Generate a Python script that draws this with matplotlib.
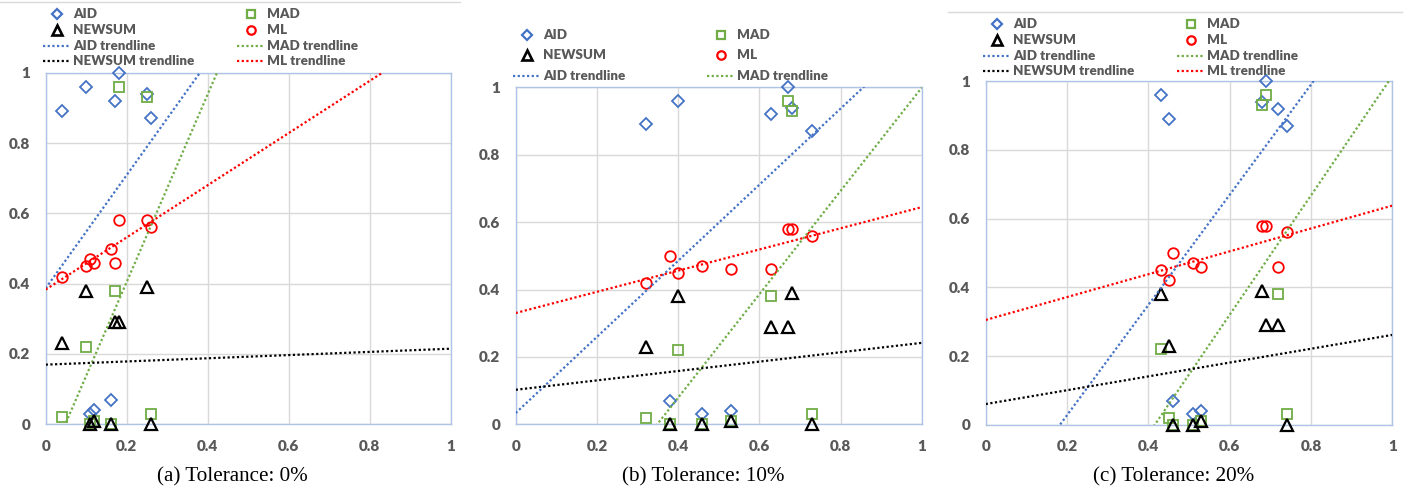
import numpy as np
import matplotlib
matplotlib.use("Agg")
import matplotlib.pyplot as plt
from matplotlib.lines import Line2D

# ---------------- data ----------------
x_tol0 = [0.04, 0.16, 0.10, 0.11, 0.12, 0.17, 0.18, 0.25, 0.26]
x_tol10 = [0.32, 0.38, 0.40, 0.46, 0.53, 0.63, 0.67, 0.68, 0.73]
x_tol20 = [0.45, 0.46, 0.43, 0.51, 0.53, 0.72, 0.69, 0.68, 0.74]
aid = [0.89, 0.07, 0.96, 0.03, 0.04, 0.92, 1.00, 0.94, 0.87]
mad = [0.02, 0.00, 0.22, 0.00, 0.01, 0.38, 0.96, 0.93, 0.03]
newsum = [0.23, 0.00, 0.38, 0.00, 0.01, 0.29, 0.29, 0.39, 0.00]
ml = [0.42, 0.50, 0.45, 0.47, 0.46, 0.46, 0.58, 0.58, 0.56]
series_names = ["AID", "MAD", "NEWSUM", "ML"]
captions = ["(a) Tolerance: 0%", "(b) Tolerance: 10%", "(c) Tolerance: 20%"]
ticks = [0, 0.2, 0.4, 0.6, 0.8, 1]
tick_labels = ["0", "0.2", "0.4", "0.6", "0.8", "1"]

# ---------------- style ----------------
W, H = 1416, 491
fig = plt.figure(figsize=(W / 100, H / 100), dpi=100)
TXT = "#595959"
styles = {
    "AID": dict(marker="D", color="#4472C4", ms=6.0, mew=1.3),
    "MAD": dict(marker="s", color="#70AD47", ms=7.2, mew=1.3),
    "NEWSUM": dict(marker="^", color="#000000", ms=8.2, mew=1.6),
    "ML": dict(marker="o", color="#FF0000", ms=7.6, mew=1.3),
}
values = {"AID": aid, "MAD": mad, "NEWSUM": newsum, "ML": ml}
xs_all = [x_tol0, x_tol10, x_tol20]

# axes boxes in pixels: left, right, top, bottom
boxes = [(45.7, 450.7, 72.7, 424.3), (515.7, 921.7, 87.3, 424.3), (985.7, 1392.3, 81.3, 424.7)]

for i, (l, r, t, b) in enumerate(boxes):
    ax = fig.add_axes([l / W, 1 - b / H, (r - l) / W, (b - t) / H])
    ax.set_xlim(0, 1)
    ax.set_ylim(0, 1)
    ax.set_xticks(ticks)
    ax.set_xticklabels(tick_labels)
    ax.set_yticks(ticks)
    ax.set_yticklabels(tick_labels)
    ax.grid(True, color="#D9D9D9", lw=1.0)
    ax.set_axisbelow(True)
    for sp in ax.spines.values():
        sp.set_color("#AFC3E6")
        sp.set_linewidth(1.0)
    ax.tick_params(length=0, pad=11, labelsize=11, labelcolor=TXT)
    for lab in ax.get_xticklabels() + ax.get_yticklabels():
        lab.set_fontfamily("Lato")
        lab.set_fontweight("heavy")
    xs = np.array(xs_all[i])
    xline = np.linspace(0, 1, 200)
    for name in series_names:
        st = styles[name]
        ys = np.array(values[name])
        ax.plot(xs, ys, linestyle="none", marker=st["marker"], ms=st["ms"],
                mfc="none", mec=st["color"], mew=st["mew"], clip_on=False, zorder=3)
    for name in series_names:
        st = styles[name]
        ys = np.array(values[name])
        k, c0 = np.polyfit(xs, ys, 1)
        ax.plot(xline, k * xline + c0, color=st["color"], lw=1.6,
                linestyle=(0, (1, 1.1)), zorder=4)

# overlay in pixel coordinates for legends, captions and frame lines
ov = fig.add_axes([0, 0, 1, 1], zorder=10)
ov.set_xlim(0, W)
ov.set_ylim(H, 0)
ov.axis("off")
ov.patch.set_alpha(0)

# chart top border lines
ov.plot([0, 460], [2, 2], color="#D9D9D9", lw=1)
ov.plot([948, 1402], [12, 12], color="#D9D9D9", lw=1)

# legends: (col1 marker x, col2 marker x, row y's, entries per column)
legends = [
    (57, 251, [14, 30, 46, 61],
     [["AID", "NEWSUM", "AID trendline", "NEWSUM trendline"],
      ["MAD", "ML", "MAD trendline", "ML trendline"]]),
    (526.7, 720.7, [35, 55, 75.5],
     [["AID", "NEWSUM", "AID trendline"],
      ["MAD", "ML", "MAD trendline"]]),
    (996.7, 1190.7, [24.3, 40, 55.5, 70.7],
     [["AID", "NEWSUM", "AID trendline", "NEWSUM trendline"],
      ["MAD", "ML", "MAD trendline", "ML trendline"]]),
]
for cx1, cx2, rows, cols in legends:
    for cx, entries in zip([cx1, cx2], cols):
        for y, label in zip(rows, entries):
            name = label.replace(" trendline", "")
            st = styles[name]
            if label.endswith("trendline"):
                ov.plot([cx - 14, cx + 14], [y, y], color=st["color"], lw=1.6,
                        linestyle=(0, (1, 1.1)))
            else:
                ov.plot([cx], [y], linestyle="none", marker=st["marker"],
                        ms=st["ms"] * 0.8, mfc="none", mec=st["color"],
                        mew=st["mew"] + 0.3)
            ov.text(cx + 16, y, label, ha="left", va="center", fontsize=9.6,
                    family="Lato", weight="heavy", color=TXT)

# captions
cap_x = [232, 703, 1174]
for cx, cap in zip(cap_x, captions):
    ov.text(cx, 477, cap, ha="center", va="center", fontsize=15.2,
            family="Liberation Serif", color="#000000")

fig.savefig("out.png", dpi=100)
